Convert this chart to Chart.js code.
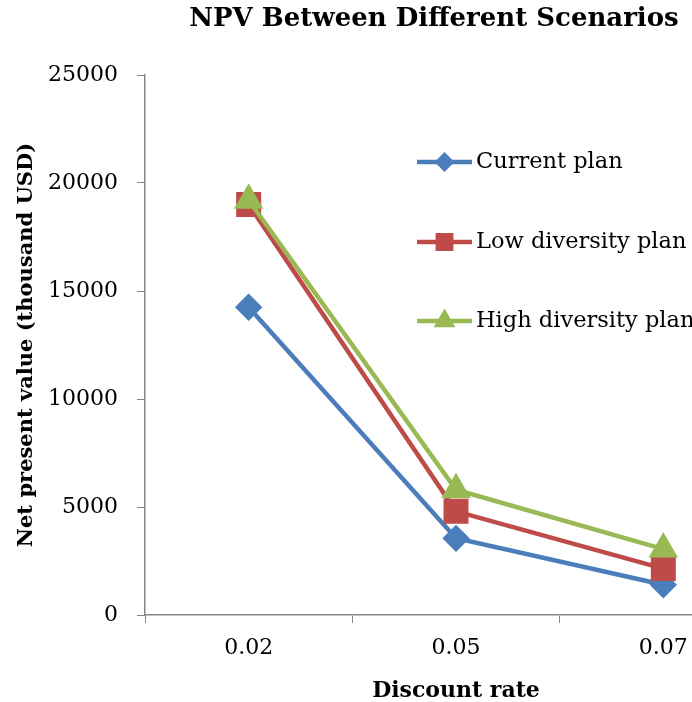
<!DOCTYPE html>
<html>
<head>
<meta charset="utf-8">
<script src="https://cdn.jsdelivr.net/npm/chart.js@4.4.0/dist/chart.umd.min.js"></script>
<style>
  html, body { margin: 0; padding: 0; background: #fff; overflow: hidden; width: 692px; height: 702px; }
  #wrap { position: relative; width: 868px; height: 702px; }
</style>
</head>
<body>
<div id="wrap"><canvas id="npvChart"></canvas></div>
<script>
// discount rates on the category axis
const rates = ['0.02', '0.05', '0.07'];
// NPV, thousand USD
const currentPlan = [14250, 3550, 1400];
const lowDiversity = [19000, 4800, 2150];
const highDiversity = [19200, 5800, 3050];
const yTicks = [0, 5000, 10000, 15000, 20000, 25000];

const SERIF = '"DejaVu Serif", "Liberation Serif", serif';
const AXIS = '#868686';
const BLUE = '#4a7ebb', RED = '#be4b48', GREEN = '#98b954';

// Excel style legend: line with marker in the middle, sitting inside the plot
const insideLegend = {
  id: 'insideLegend',
  afterDraw(chart) {
    const { ctx, chartArea } = chart;
    const x0 = chartArea.left + 272, x1 = x0 + 55;
    const rows = [87, 167, 246];
    ctx.save();
    chart.data.datasets.forEach((ds, i) => {
      const y = chartArea.top + rows[i];
      ctx.strokeStyle = ds.borderColor;
      ctx.lineWidth = ds.borderWidth;
      ctx.beginPath();
      ctx.moveTo(x0, y);
      ctx.lineTo(x1, y);
      ctx.stroke();
      ctx.fillStyle = ds.pointBackgroundColor;
      ctx.strokeStyle = ds.pointBorderColor;
      Chart.helpers.drawPoint(ctx, {
        pointStyle: ds.pointStyle, radius: ds.pointRadius * 0.65, borderWidth: 1
      }, (x0 + x1) / 2, y);
      ctx.fillStyle = '#000';
      ctx.font = '22.5px ' + SERIF;
      ctx.textBaseline = 'middle';
      ctx.textAlign = 'left';
      ctx.fillText(ds.label, x1 + 4, y);
    });
    ctx.restore();
  }
};

const series = (label, data, color, style, r, order) => ({
  label, data, order,
  borderColor: color,
  backgroundColor: color,
  pointBackgroundColor: color,
  pointBorderColor: color,
  pointStyle: style,
  pointRadius: r,
  pointHoverRadius: r,
  borderWidth: 4.5,
  tension: 0,
  fill: false
});

new Chart(document.getElementById('npvChart'), {
  type: 'line',
  data: {
    labels: rates,
    datasets: [
      series('Current plan', currentPlan, BLUE, 'rectRot', 10.5, 3),
      series('Low diversity plan', lowDiversity, RED, 'rect', 14.5, 2),
      series('High diversity plan', highDiversity, GREEN, 'triangle', 12.5, 1)
    ]
  },
  options: {
    responsive: true,
    maintainAspectRatio: false,
    animation: false,
    layout: { padding: 0 },
    plugins: {
      legend: { display: false },
      tooltip: { enabled: false },
      title: {
        display: true,
        text: 'NPV Between Different Scenarios',
        color: '#000',
        font: { family: SERIF, size: 26, weight: 'bold' },
        padding: { top: 4, bottom: 39.8 }
      }
    },
    scales: {
      x: {
        offset: true,
        afterFit: s => { s.height = 87; },
        grid: { offset: true, drawOnChartArea: false, drawTicks: true, tickLength: 8, color: AXIS, lineWidth: 1 },
        border: { color: AXIS, width: 1.5 },
        ticks: { color: '#000', font: { family: SERIF, size: 22 }, padding: 12, maxRotation: 0 },
        title: { display: true, text: 'Discount rate', color: '#000', font: { family: SERIF, size: 22, weight: 'bold' }, padding: { top: 6, bottom: -2 } }
      },
      y: {
        min: 0,
        max: 25000,
        afterFit: s => { s.width = 145; },
        afterBuildTicks: s => { s.ticks = yTicks.map(v => ({ value: v })); },
        grid: { drawOnChartArea: false, drawTicks: true, tickLength: 8, color: AXIS, lineWidth: 1 },
        border: { color: AXIS, width: 1.5 },
        ticks: { color: '#000', font: { family: SERIF, size: 22 }, padding: 19, callback: v => String(v) },
        title: { display: true, text: 'Net present value (thousand USD)', color: '#000', font: { family: SERIF, size: 21, weight: 'bold' }, padding: { top: 14, bottom: 0 } }
      },
      // empty spacer on the right so the plot runs past the window edge
      spacer: {
        position: 'right',
        afterFit: s => { s.width = 101; },
        grid: { display: false },
        border: { display: false },
        ticks: { display: false }
      }
    }
  },
  plugins: [insideLegend]
});
</script>
</body>
</html>
